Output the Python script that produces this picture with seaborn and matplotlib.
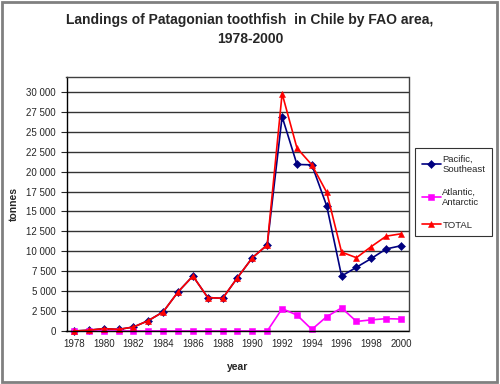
import pandas as pd
import matplotlib.pyplot as plt
import matplotlib.ticker as mticker
import seaborn as sns

# data (tonnes)
years = list(range(1978, 2001))
pacific = [0, 100, 300, 200, 500, 1300, 2400, 4900, 6900, 4200, 4100, 6700, 9200, 10800,
           26900, 20900, 20850, 15700, 6900, 8000, 9100, 10300, 10700]
atlantic = [0, 0, 0, 0, 0, 0, 0, 0, 0, 0, 0, 0, 0, 0,
            2800, 2000, 200, 1800, 2900, 1200, 1400, 1550, 1500]
total = [0, 100, 300, 200, 500, 1300, 2400, 4900, 6900, 4200, 4100, 6700, 9200, 10800,
         29800, 22950, 20850, 17400, 9900, 9200, 10600, 11900, 12200]
series = ['Pacific,\nSoutheast', 'Atlantic,\nAntarctic', 'TOTAL']

df = pd.DataFrame({
    'year': years * 3,
    'tonnes': pacific + atlantic + total,
    'area': [series[0]] * 23 + [series[1]] * 23 + [series[2]] * 23,
})

sns.set_style('white')
plt.rcParams['font.family'] = ['Liberation Sans', 'DejaVu Sans']

fig = plt.figure(figsize=(5, 3.84), dpi=100)
ax = fig.add_axes([0.133, 0.138, 0.684, 0.662])

sns.lineplot(data=df, x='year', y='tonnes', hue='area', style='area',
             palette={series[0]: '#000080', series[1]: '#FF00FF', series[2]: '#FF0000'},
             markers={series[0]: 'D', series[1]: 's', series[2]: '^'},
             dashes=False, markersize=5, linewidth=1.2, ax=ax)
for ln in ax.lines:
    ln.set_markeredgecolor(ln.get_color())
    ln.set_markeredgewidth(0.4)
    if ln.get_marker() == 'D':
        ln.set_markersize(4.2)
    ln.set_clip_on(False)

ax.set_xlim(1977.5, 2000.5)
ax.set_ylim(0, 31900)
ax.set_yticks(range(0, 30001, 2500))
ax.yaxis.set_major_formatter(mticker.FuncFormatter(lambda v, p: f'{int(v):,}'.replace(',', ' ')))
ax.set_xticks(range(1978, 2001, 2))
ax.set_xticks([y + 0.5 for y in range(1977, 2001)], minor=True)
ax.tick_params(axis='x', which='major', length=0, labelsize=7, pad=6)
ax.tick_params(axis='x', which='minor', length=4, direction='in', width=0.8)
ax.tick_params(axis='y', length=4, direction='out', width=0.8, labelsize=7, left=True)
ax.yaxis.grid(True, color='#333333', linewidth=1)
ax.set_axisbelow(True)
for s in ax.spines.values():
    s.set_color('#404040')
    s.set_linewidth(1)
ax.spines['left'].set_color('black')
ax.spines['bottom'].set_color('black')

ax.set_xlabel('year', fontsize=7.5, fontweight='bold')
ax.set_ylabel('tonnes', fontsize=7.5, fontweight='bold')
ax.xaxis.set_label_coords(0.5, -0.12)
ax.yaxis.set_label_coords(-0.14, 0.5)

fig.text(0.5, 0.965, 'Landings of Patagonian toothfish  in Chile by FAO area,\n1978-2000',
         ha='center', va='top', fontsize=10, fontweight='bold', linespacing=1.45)

leg = ax.legend(title=None, loc='upper left', bbox_to_anchor=(0.83, 0.615), bbox_transform=fig.transFigure,
                fontsize=6.8, frameon=True, fancybox=False, edgecolor='black', handlelength=2.0,
                labelspacing=1.45, borderpad=0.7, handletextpad=0.2, borderaxespad=0)
leg.get_frame().set_linewidth(0.8)
for h in leg.legend_handles:
    h.set_markeredgecolor(h.get_color())
    h.set_markersize(4.5)

# outer border of the chart
fig.patches.append(plt.Rectangle((0.004, 0.006), 0.99, 0.988, transform=fig.transFigure,
                                 fill=False, edgecolor='#808080', linewidth=2))

fig.savefig('out.png', dpi=100)
